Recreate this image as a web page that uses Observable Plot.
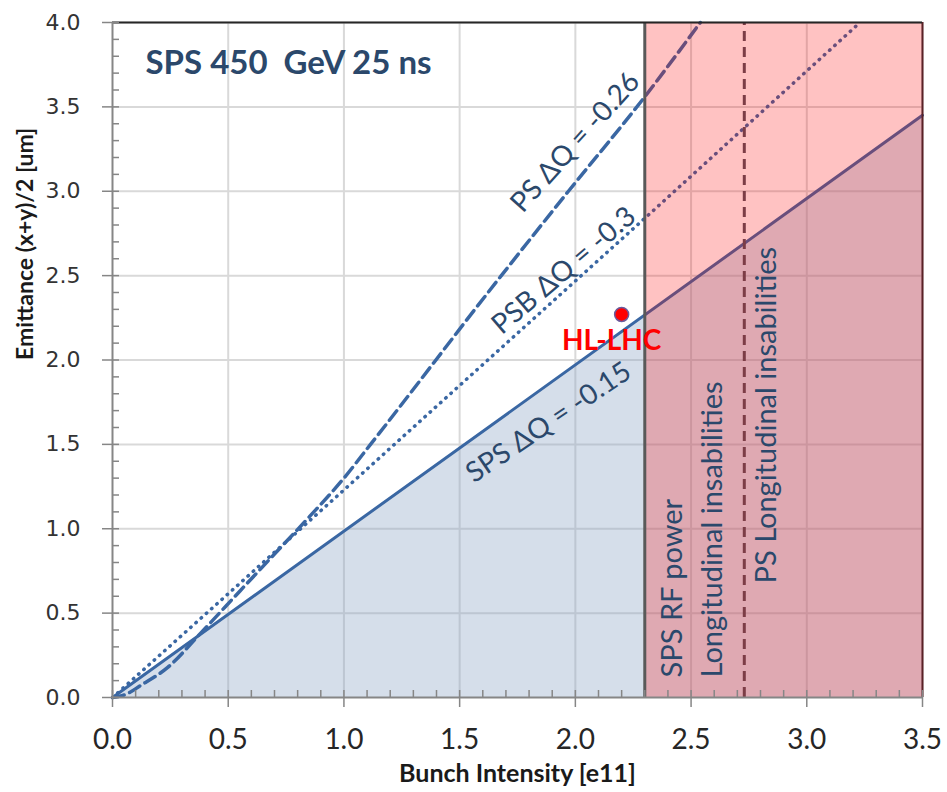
<!DOCTYPE html>
<html><head><meta charset="utf-8">
<script src="https://cdn.jsdelivr.net/npm/d3@7"></script>
<script src="https://cdn.jsdelivr.net/npm/@observablehq/plot@0.6"></script>
<style>body{margin:0;background:#fff}</style>
</head><body><div id="chart"></div>
<script>
// ---- data ----
const spsX = [0, 3.5];
const spsY = [0, 3.45];
const psX = [0, 0.06, 0.12, 0.24, 0.38, 0.55, 0.70, 0.85, 1.0, 1.115, 1.68, 1.97, 2.3, 2.54];
const psY = [0, 0.02, 0.07, 0.18, 0.38, 0.63, 0.85, 1.07, 1.3, 1.5, 2.5, 3.0, 3.56, 4.0];
const psbX = [0, 1.0, 2.3, 3.23];
const psbY = [0, 1.23, 2.84, 4.0];
const hlX = [2.2];
const hlY = [2.27];
const rfLimit = [2.3];
const psLongLimit = [2.73];
const xMax = 3.5, yMax = 4.0;
const xTicks = [0, 0.5, 1.0, 1.5, 2.0, 2.5, 3.0, 3.5];
const yTicks = [0, 0.5, 1.0, 1.5, 2.0, 2.5, 3.0, 3.5, 4.0];
const xMinor = d3.range(0, 36).map(i => i / 10);
const yMinor = d3.range(0, 41).map(i => i / 10);

// annotation text
const lineLabels = ["PS \u0394Q = -0.26", "PSB \u0394Q = -0.3", "SPS \u0394Q = -0.15"];
const lineLabelX = [2.0, 1.95, 1.884];
const lineLabelY = [3.29, 2.53, 1.63];
const lineLabelRot = [-48, -40.6, -34];
const vLabels = ["SPS RF power", "Longitudinal insabilities", "PS Longitudinal insabilities"];
const vLabelX = [2.42, 2.593, 2.826];
const vLabelY = [0.119, 0.119, 0.676];

const tbl = (xs, ys) => xs.map((x, i) => ({x, y: ys[i]}));
const sps = tbl(spsX, spsY), ps = tbl(psX, psY), psb = tbl(psbX, psbY), hl = tbl(hlX, hlY);

const blue = "#3a67a3";
const navy = "#2b486b";
const font = "Lato, 'Open Sans', sans-serif";

const chart = Plot.plot({
  width: 947, height: 792,
  marginLeft: 112, marginRight: 25, marginTop: 22, marginBottom: 95,
  x: {domain: [0, xMax], axis: null},
  y: {domain: [0, yMax], axis: null},
  style: {fontFamily: font, background: "white", overflow: "visible"},
  marks: [
    Plot.ruleX(xTicks.slice(1), {x: d => d, y1: 0, y2: yMax, stroke: "#d9d9d9", strokeWidth: 2}),
    Plot.ruleY(yTicks.slice(1), {y: d => d, x1: 0, x2: xMax, stroke: "#d9d9d9", strokeWidth: 2}),
    Plot.areaY(sps, {x: "x", y: "y", fill: "#8aa4c4", fillOpacity: 0.36}),
    Plot.line(sps, {x: "x", y: "y", stroke: blue, strokeWidth: 3}),
    Plot.line(ps, {x: "x", y: "y", stroke: blue, strokeWidth: 3.5, strokeDasharray: "12,6", curve: "monotone-x"}),
    Plot.line(psb, {x: "x", y: "y", stroke: blue, strokeWidth: 3.5, strokeDasharray: "0.5,6.5", strokeLinecap: "round"}),
    Plot.dot(hl, {x: "x", y: "y", r: 7, fill: "#ff0000", stroke: "#6a5a9c", strokeWidth: 1.5}),
    Plot.rect([{x1: rfLimit[0], x2: xMax}], {x1: "x1", x2: "x2", y1: 0, y2: yMax, fill: "#ff0000", fillOpacity: 0.24}),
    Plot.ruleX(rfLimit, {x: d => d, y1: 0, y2: yMax, stroke: "#595959", strokeWidth: 3}),
    Plot.ruleX(psLongLimit, {x: d => d, y1: 0, y2: yMax, stroke: "#7c3d46", strokeWidth: 3, strokeDasharray: "10,6"}),
    Plot.ruleX([xMax], {x: d => d, y1: 0, y2: yMax, stroke: "#5a2126", strokeWidth: 2}),
    Plot.ruleY([yMax], {y: d => d, x1: 0, x2: xMax, stroke: "#262626", strokeWidth: 2}),
    // axes lines
    Plot.ruleY([0], {y: d => d, x1: 0, x2: xMax, stroke: "#868686", strokeWidth: 2}),
    Plot.ruleX([0], {x: d => d, y1: 0, y2: yMax, stroke: "#868686", strokeWidth: 2}),
    // ticks
    Plot.ruleX(xMinor, {x: d => d, y1: 0, y2: 0, insetTop: -7, insetBottom: 0, stroke: "#868686", strokeWidth: 1.5}),
    Plot.ruleX(xTicks, {x: d => d, y1: 0, y2: 0, insetTop: 0, insetBottom: -10, stroke: "#868686", strokeWidth: 1.5}),
    Plot.ruleY(yMinor, {y: d => d, x1: 0, x2: 0, insetLeft: 0, insetRight: -7, stroke: "#868686", strokeWidth: 1.5}),
    Plot.ruleY(yTicks, {y: d => d, x1: 0, x2: 0, insetLeft: -10, insetRight: 0, stroke: "#868686", strokeWidth: 1.5}),
    // tick labels
    Plot.text(xTicks, {x: d => d, y: 0, text: d => d.toFixed(1), dy: 43, lineAnchor: "middle", fontSize: 28, fill: "#262626", fontFamily: font}),
    Plot.text(yTicks, {x: 0, y: d => d, text: d => d.toFixed(1), dx: -32, textAnchor: "end", lineAnchor: "middle", fontSize: 22, fill: "#333", fontFamily: "'DejaVu Sans', Verdana, sans-serif"}),
    // axis titles
    Plot.text(["Bunch Intensity [e11]"], {frameAnchor: "bottom", dy: 76, lineAnchor: "middle", fontSize: 25, fontWeight: "bold", fill: "#1a1a1a", fontFamily: font}),
    Plot.text(["Emittance (x+y)/2 [um]"], {frameAnchor: "left", dx: -87, rotate: -90, lineAnchor: "middle", fontSize: 23, fontWeight: "bold", fill: "#1a1a1a", fontFamily: font}),
    // title
    Plot.text(["SPS 450\u00a0 GeV 25 ns"], {frameAnchor: "top-left", dx: 33, dy: 41, textAnchor: "start", lineAnchor: "middle", fontSize: 33, fontWeight: "bold", fill: navy, fontFamily: font}),
    // line labels
    Plot.text(lineLabels, {x: (d, i) => lineLabelX[i], y: (d, i) => lineLabelY[i], rotate: (d, i) => lineLabelRot[i], text: d => d, lineAnchor: "middle", fontSize: 28, fill: navy, fontFamily: font}),
    Plot.text(vLabels, {x: (d, i) => vLabelX[i], y: (d, i) => vLabelY[i], rotate: -90, text: d => d, textAnchor: "start", lineAnchor: "middle", fontSize: 29, fill: navy, fontFamily: font}),
    Plot.text(hl, {x: "x", y: "y", text: () => "HL-LHC", dx: -10, dy: 27, lineAnchor: "middle", fontSize: 28, fontWeight: "bold", fill: "#ff0000", fontFamily: font})
  ]
});
document.getElementById("chart").appendChild(chart);
</script>
</body></html>
